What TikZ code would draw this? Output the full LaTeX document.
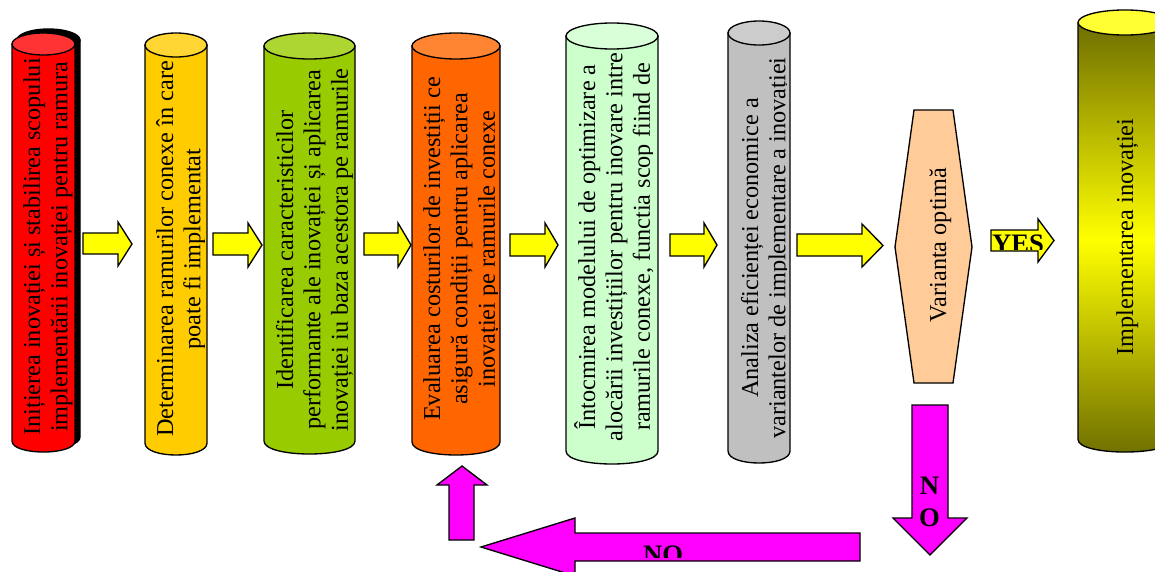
\documentclass[tikz,border=0pt]{standalone}
\usepackage{fontspec}
\setmainfont{Liberation Serif}
\definecolor{cred}{HTML}{FF0000}
\definecolor{credtop}{HTML}{FF3333}
\definecolor{cyel}{HTML}{FFCC00}
\definecolor{cyeltop}{HTML}{FFD633}
\definecolor{cgrn}{HTML}{99CC00}
\definecolor{cgrntop}{HTML}{ADD633}
\definecolor{corg}{HTML}{FF6600}
\definecolor{corgtop}{HTML}{FF8533}
\definecolor{clgr}{HTML}{CCFFCC}
\definecolor{clgrtop}{HTML}{D9FFD9}
\definecolor{cgry}{HTML}{C0C0C0}
\definecolor{cgrytop}{HTML}{CCCCCC}
\definecolor{olivedark}{HTML}{6E6E00}
\definecolor{cyltop}{HTML}{FFFF33}
\definecolor{arrowyellow}{HTML}{FFFF00}
\definecolor{arrowmag}{HTML}{FF00FF}
\definecolor{hexfill}{HTML}{FFCC99}
\newcommand{\cylfont}{\fontsize{18.2}{20.6}\selectfont}
% #1 left, #2 right, #3 top, #4 bottom, #5 ry, #6 body colour, #7 top colour
\newcommand{\cylbody}[7]{%
  \path[draw=black, line width=1pt, fill=#6]
    (#1,#3+#5) -- (#1,#4-#5)
    .. controls (#1,#4-#5+1.3333*#5) and (#2,#4-#5+1.3333*#5) .. (#2,#4-#5)
    -- (#2,#3+#5) -- cycle;
  \path[draw=black, line width=1pt, fill=#7]
    ({(#1+#2)/2},#3+#5) ellipse [x radius={(#2-#1)/2*0.75pt}, y radius={#5*0.75pt}];
}
\begin{document}
\begin{tikzpicture}[x=0.75pt, y=-0.75pt, line join=miter,
  outline/.style={draw=black, line width=1pt},
  yarrow/.style={outline, fill=arrowyellow},
  marrow/.style={outline, fill=arrowmag},
  cyltext/.style={rotate=90, anchor=base, text width=400pt, align=flush center, inner sep=0pt, font=\cylfont},
  rtext/.style={rotate=90, anchor=base, inner sep=0pt, font=\cylfont},
  lbl/.style={inner sep=0pt, font=\fontsize{20}{24}\selectfont\bfseries}]
\useasboundingbox (0,0) rectangle (1155,571);

% shadow of the first cylinder
\cylbody{17}{80}{29}{448}{11}{black}{black}
% cylinders
\cylbody{12}{75}{33}{452}{11}{cred}{credtop}
\cylbody{145}{207}{33}{455}{12}{cyel}{cyeltop}
\cylbody{264}{355}{33}{454}{13}{cgrn}{cgrntop}
\cylbody{412}{500}{33}{455}{13}{corg}{corgtop}
\cylbody{566}{658}{23}{464}{13}{clgr}{clgrtop}
\cylbody{728}{790}{21}{463}{12}{cgry}{cgrytop}
% right cylinder with gradient
\path[top color=olivedark, bottom color=olivedark, middle color=arrowyellow]
  (1078,22.5) -- (1078,439.5)
  .. controls (1078,456.2) and (1172,456.2) .. (1172,439.5) -- (1172,22.5) -- cycle;
\draw[line width=1pt]
  (1078,22.5) -- (1078,439.5)
  .. controls (1078,456.2) and (1172,456.2) .. (1172,439.5) -- (1172,22.5);
\path[draw=black, line width=1pt, fill=cyltop] (1125,22.5) ellipse [x radius=35.25pt, y radius=9.4pt];

% texts in cylinders (clipped like text boxes)
\begin{scope}
\clip (12,30) rectangle (72,460);
\node[cyltext] (t1) at (40,247) {Inițierea inovației și stabilirea scopului\\implementării inovației pentru ramura};
\end{scope}
\begin{scope}
\clip (145,30) rectangle (204,460);
\node[cyltext] (t2) at (173,249) {Determinarea ramurilor conexe în care\\poate fi implementat};
\end{scope}
\begin{scope}
\clip (264,30) rectangle (352,460);
\node[cyltext] (t3) at (293,250) {Identificarea caracteristicilor\\performante ale inovației și aplicarea\\inovației iu baza acestora pe ramurile};
\end{scope}
\begin{scope}
\clip (412,30) rectangle (497,460);
\node[cyltext] (t4) at (440,249) {Evaluarea costurilor de investiții ce\\asigură condiții pentru aplicarea\\inovației pe ramurile conexe};
\end{scope}
\begin{scope}
\clip (566,20) rectangle (652,470);
\node[cyltext] (t5) at (595,247) {Întocmirea modelului de optimizare a\\alocării investițiilor pentru inovare intre\\ramurile conexe, functia scop fiind de};
\end{scope}
\begin{scope}
\clip (728,20) rectangle (786,470);
\node[cyltext] (t6) at (758,248) {Analiza eficienței economice a\\variantelor de implementare a inovației};
\end{scope}
\node[rtext] (t7) at (1133,237) {Implementarea inovației};

% hexagon
\path[outline, fill=hexfill] (914,110) -- (953,110) -- (972,247) -- (953,383) -- (914,383) -- (895,247) -- cycle;
\node[rtext] (hex) at (946,245) {Varianta optimă};

% yellow arrows
\path[yarrow] (83,233) -- (118,233) -- (118,222) -- (132,244) -- (118,266) -- (118,254) -- (83,254) -- cycle;
\path[yarrow] (213,233) -- (248,233) -- (248,223) -- (262,245) -- (248,267) -- (248,255) -- (213,255) -- cycle;
\path[yarrow] (364,233) -- (398,233) -- (398,223) -- (411,245) -- (398,267) -- (398,255) -- (364,255) -- cycle;
\path[yarrow] (510,234) -- (545,234) -- (545,223) -- (558,245) -- (545,267) -- (545,256) -- (510,256) -- cycle;
\path[yarrow] (670,234) -- (704,234) -- (704,223) -- (717,245) -- (704,267) -- (704,256) -- (670,256) -- cycle;
\path[yarrow] (797,234) -- (862,234) -- (862,224) -- (883,245.5) -- (862,267) -- (862,256) -- (797,256) -- cycle;
\path[yarrow] (991,230) -- (1038,230) -- (1038,219) -- (1054,240.5) -- (1038,262) -- (1038,251) -- (991,251) -- cycle;
\begin{scope}
\clip (985,226) rectangle (1050,249);
\node[lbl, anchor=base] (yes) at (1018,252) {YES};
\end{scope}

% magenta arrows
\path[marrow] (912,405) -- (948,405) -- (948,518) -- (967,518) -- (930,555) -- (893,518) -- (912,518) -- cycle;
\node[lbl, anchor=base] (noN) at (929.5,494) {N};
\node[lbl, anchor=base] (noO) at (929.5,526) {O};
\path[marrow] (860,533) -- (575,533) -- (575,518) -- (481,547) -- (575,576) -- (575,561) -- (860,561) -- cycle;
\begin{scope}
\clip (580,535) rectangle (858,557);
\node[lbl, anchor=base] (no2) at (663,563) {NO};
\end{scope}
\path[marrow] (449,540) -- (449,485) -- (437,485) -- (462,466) -- (487,485) -- (474,485) -- (474,540) -- cycle;
\end{tikzpicture}
\end{document}
